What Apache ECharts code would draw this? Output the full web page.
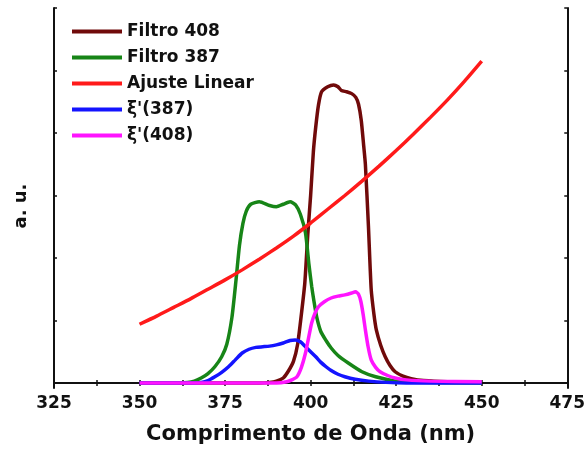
<!DOCTYPE html>
<html><head><meta charset="utf-8">
<script src="https://cdn.jsdelivr.net/npm/echarts@6/dist/echarts.min.js"></script>
<style>html,body{margin:0;padding:0;background:#fff}#c{width:588px;height:452px}</style>
</head><body><div id="c"></div>
<script>
const seriesNames = ['Filtro 408', 'Filtro 387', 'Ajuste Linear', "ξ'(387)", "ξ'(408)"];
const xTicks = [325, 350, 375, 400, 425, 450, 475];
const yTicks = [0, 1, 2, 3, 4, 5, 6];

const f408X = [350, 385, 388, 390, 392, 393.6, 395, 396.2, 397.3, 398.3, 399.2, 400, 400.8, 401.5, 402.3, 403.2, 405, 406.7, 408, 409, 410.5, 412, 413.2, 414, 414.8, 415.5, 416, 416.9, 417.7, 418.5, 419.2, 420.5, 421.8, 423.2, 424.7, 427, 429.4, 433, 440, 450];
const f408Y = [0, 0, 0.01, 0.03, 0.08, 0.2, 0.35, 0.62, 1.1, 1.6, 2.4, 3.0, 3.7, 4.1, 4.45, 4.66, 4.74, 4.77, 4.74, 4.68, 4.66, 4.63, 4.57, 4.46, 4.2, 3.8, 3.5, 2.5, 1.5, 1.1, 0.85, 0.6, 0.42, 0.28, 0.18, 0.11, 0.07, 0.04, 0.02, 0.01];

const f387X = [350, 360, 364, 366, 368, 370, 372, 374, 375.5, 377, 378.2, 379.2, 380.2, 381.2, 382.5, 385, 388, 390, 392, 394, 395.6, 397, 398.5, 399.5, 400.3, 401, 401.8, 403, 404.5, 406, 408, 411, 415, 419, 425, 430, 450];
const f387Y = [0, 0, 0.01, 0.03, 0.08, 0.15, 0.26, 0.42, 0.62, 1.05, 1.65, 2.2, 2.55, 2.75, 2.86, 2.9, 2.84, 2.82, 2.86, 2.9, 2.85, 2.7, 2.4, 1.9, 1.55, 1.3, 1.05, 0.82, 0.68, 0.56, 0.44, 0.32, 0.18, 0.1, 0.03, 0.01, 0];

const fitX = [350, 355, 360, 365, 370, 375, 380, 385, 390, 395, 400, 405, 410, 415, 420, 425, 430, 435, 440, 445, 450];
const fitY = [0.94, 1.07, 1.21, 1.35, 1.50, 1.65, 1.81, 1.98, 2.16, 2.35, 2.56, 2.78, 3.00, 3.23, 3.47, 3.72, 3.98, 4.25, 4.53, 4.83, 5.15];

const xi387X = [350, 366, 368, 370, 372, 374, 376, 378, 380, 382, 384, 386, 388, 390, 392, 394, 395.5, 397, 398.5, 400, 401.5, 403, 404.5, 406, 408, 410, 413, 417, 422, 428, 450];
const xi387Y = [0, 0, 0.01, 0.04, 0.1, 0.17, 0.26, 0.37, 0.48, 0.54, 0.57, 0.58, 0.59, 0.61, 0.64, 0.68, 0.69, 0.66, 0.58, 0.5, 0.42, 0.33, 0.26, 0.2, 0.14, 0.1, 0.06, 0.03, 0.01, 0, 0];

const xi408X = [350, 390, 393, 394.5, 396, 397.3, 398.5, 399.5, 400.3, 401.3, 402.3, 404, 406, 408, 410, 412, 413.1, 414, 414.7, 415.4, 416, 416.8, 417.7, 419, 420.3, 422.5, 424.7, 428, 435, 450];
const xi408Y = [0, 0, 0.02, 0.05, 0.1, 0.25, 0.48, 0.75, 0.96, 1.12, 1.22, 1.3, 1.36, 1.39, 1.41, 1.44, 1.46, 1.42, 1.3, 1.08, 0.85, 0.58, 0.37, 0.25, 0.18, 0.12, 0.08, 0.05, 0.03, 0.02];

const colors = ['#700a0a', '#178517', '#ff1a1a', '#1414ff', '#ff14ff'];
const xs = [f408X, f387X, fitX, xi387X, xi408X];
const ys = [f408Y, f387Y, fitY, xi387Y, xi408Y];

const FONT = '"DejaVu Sans", sans-serif';
const chart = echarts.init(document.getElementById('c'));
function tick(custom) {
  const t = { show: true, inside: true, length: 3, lineStyle: { color: '#111', width: 1.5 } };
  if (custom) t.customValues = custom;
  return t;
}
function minor() {
  return { show: true, splitNumber: 2, length: 3, lineStyle: { color: '#111', width: 1.5 } };
}
chart.setOption({
  animation: false,
  grid: { left: 54, right: 19, top: 8, bottom: 64 },
  legend: {
    left: 67, top: 18, orient: 'vertical', itemWidth: 50, itemHeight: 4, itemGap: 9,
    icon: 'rect',
    data: seriesNames,
    textStyle: { fontFamily: FONT, fontWeight: 'bold', fontSize: 17, color: '#111' }
  },
  graphic: [{
    type: 'text', rotation: Math.PI / 2, x: 21, y: 206,
    style: { text: 'a. u.', font: 'bold 18px "DejaVu Sans", sans-serif', fill: '#111', textAlign: 'center', textVerticalAlign: 'middle' }
  }],
  xAxis: [{
    type: 'value', min: 325, max: 475, interval: 25, position: 'bottom',
    name: 'Comprimento de Onda (nm)', nameLocation: 'middle', nameGap: 36,
    nameTextStyle: { fontFamily: FONT, fontWeight: 'bold', fontSize: 21, color: '#111' },
    axisLine: { lineStyle: { color: '#111', width: 2 } },
    axisTick: tick(), minorTick: minor(),
    axisLabel: { fontFamily: FONT, fontWeight: 'bold', fontSize: 17, color: '#111', margin: 7 },
    splitLine: { show: false }
  }, {
    type: 'value', min: 325, max: 475, interval: 25, position: 'top',
    axisLine: { lineStyle: { color: '#111', width: 2 } },
    axisTick: tick(), minorTick: minor(),
    axisLabel: { show: false }, splitLine: { show: false }
  }],
  yAxis: [{
    type: 'value', min: -0.08, max: 6, position: 'left',
    axisLine: { show: true, lineStyle: { color: '#111', width: 2 } },
    axisTick: tick(yTicks),
    axisLabel: { show: false }, splitLine: { show: false }
  }, {
    type: 'value', min: -0.08, max: 6, position: 'right',
    axisLine: { show: true, lineStyle: { color: '#111', width: 2 } },
    axisTick: tick(yTicks),
    axisLabel: { show: false }, splitLine: { show: false }
  }],
  series: seriesNames.map((n, i) => ({
    name: n, type: 'line', symbol: 'none', smooth: 0.2, z: 2 + i,
    data: xs[i].map((x, j) => [x, ys[i][j]]),
    lineStyle: { color: colors[i], width: 3.5 },
    itemStyle: { color: colors[i] }
  }))
});
</script></body></html>
